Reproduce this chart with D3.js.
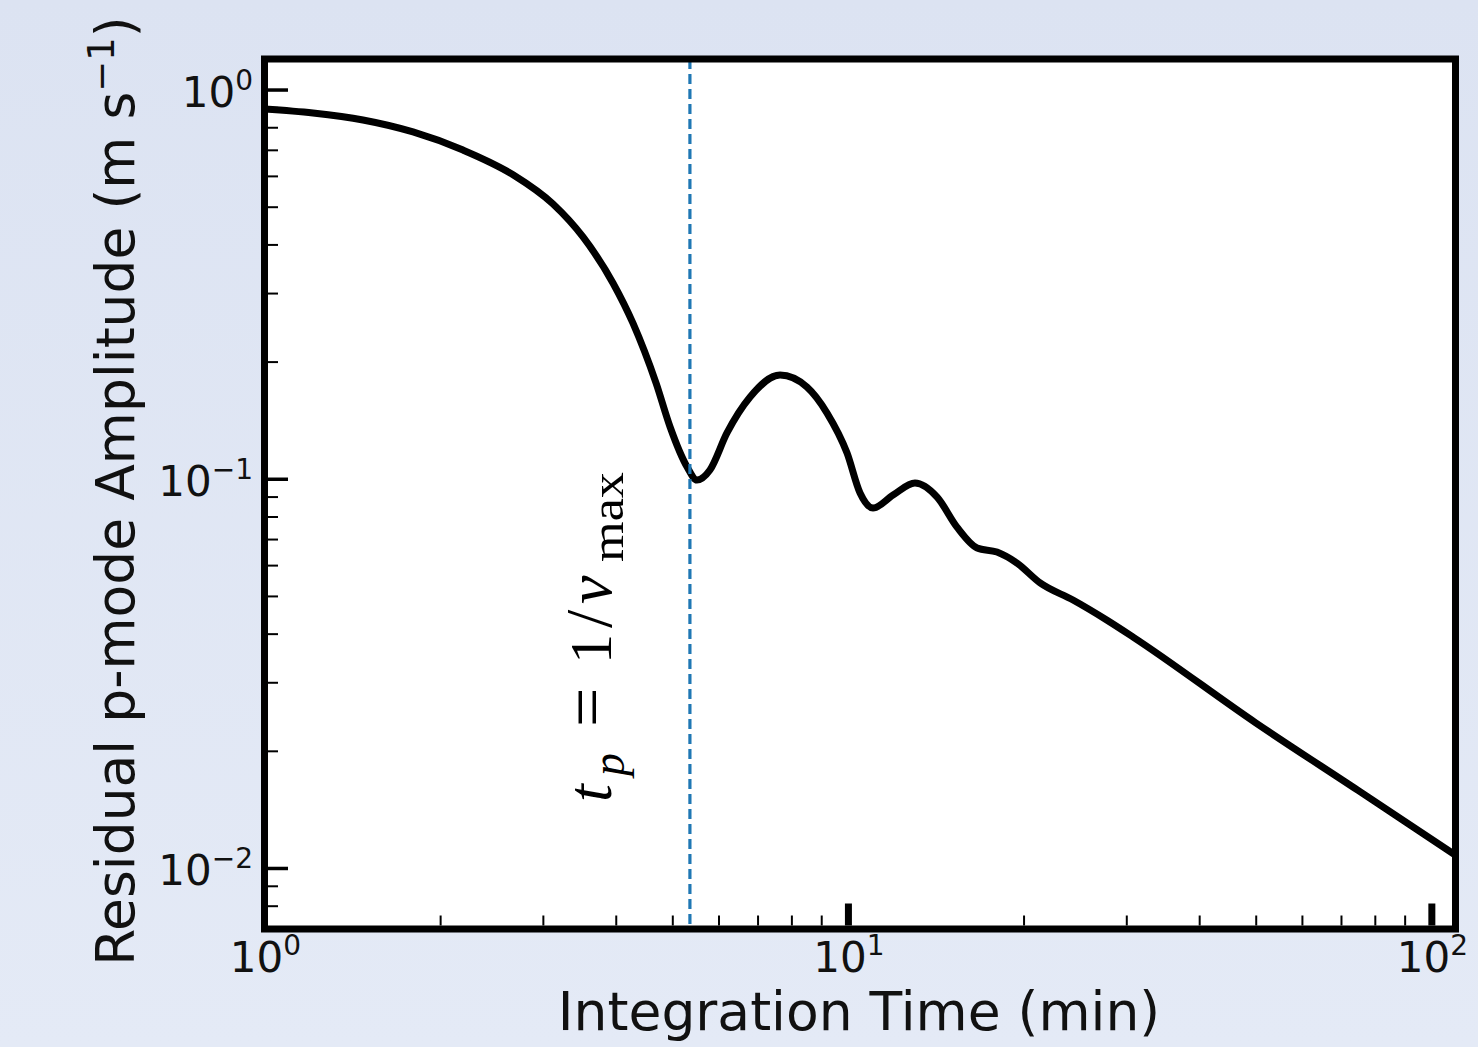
<!DOCTYPE html>
<html>
<head>
<meta charset="utf-8">
<script src="https://cdn.jsdelivr.net/npm/d3@7"></script>
<style>
  html, body { margin: 0; padding: 0; }
  body { width: 1478px; height: 1047px; overflow: hidden; }
  svg { display: block; }
</style>
</head>
<body>
<svg id="chart" width="1478" height="1047"></svg>
<script>
// ---- data ----
const timeMin = [1.0, 1.211, 1.475, 1.797, 2.189, 2.667, 3.123, 3.515, 3.958, 4.281, 4.690, 4.957, 5.301, 5.512, 5.801, 6.204, 6.797, 7.649, 8.510, 9.209, 9.966, 10.49, 11.04, 11.95, 13.03, 14.22, 15.38, 16.65, 18.01, 19.49, 21.35, 24.31, 27.81, 30.82, 50.0, 75.0, 110.0];
const amplitude = [0.891, 0.870, 0.835, 0.778, 0.699, 0.604, 0.508, 0.418, 0.318, 0.251, 0.176, 0.1358, 0.1072, 0.0992, 0.1053, 0.1311, 0.1622, 0.1847, 0.1720, 0.1475, 0.1164, 0.0919, 0.0841, 0.0908, 0.0975, 0.0897, 0.0751, 0.0664, 0.0648, 0.0607, 0.0540, 0.0488, 0.0433, 0.0392, 0.0236, 0.0158, 0.01079];
const tPeak = 5.36;                 // dashed marker t_p = 1/nu_max
const xMajorTicks = [1, 10, 100];
const xTickExps = ["0", "1", "2"];
const yMajorTicks = [1, 0.1, 0.01];
const yTickExps = ["0", "\u22121", "\u22122"];
const xMinorTicks = [2,3,4,5,6,7,8,9,20,30,40,50,60,70,80,90];
const yMinorTicks = [0.008,0.009,0.02,0.03,0.04,0.05,0.06,0.07,0.08,0.09,0.2,0.3,0.4,0.5,0.6,0.7,0.8,0.9];
const xDomain = [1, 110.0];
const yDomain = [0.00697, 1.198];

// ---- layout ----
const L = 264.5, R = 1455.5, T = 59, B = 929;
const svg = d3.select("#chart");

const defs = svg.append("defs");
const grad = defs.append("linearGradient").attr("id", "bg").attr("x1", 0).attr("y1", 0).attr("x2", 0).attr("y2", 1);
grad.append("stop").attr("offset", "0%").attr("stop-color", "#dce3f2");
grad.append("stop").attr("offset", "100%").attr("stop-color", "#e4eaf6");
defs.append("clipPath").attr("id", "plotclip").append("rect")
  .attr("x", L).attr("y", T).attr("width", R - L).attr("height", B - T);

svg.append("rect").attr("width", 1478).attr("height", 1047).attr("fill", "url(#bg)");
svg.append("rect").attr("x", L).attr("y", T).attr("width", R - L).attr("height", B - T).attr("fill", "#ffffff");

const x = d3.scaleLog().domain(xDomain).range([L, R]);
const y = d3.scaleLog().domain(yDomain).range([B, T]);

const FONT = "DejaVu Sans, Verdana, sans-serif";

// ---- ticks (inward) via d3 axes ----
const innerB = B - 3.5, innerL = L + 3.5;
const xMinorAxis = d3.axisBottom(x).tickValues(xMinorTicks).tickSize(-10).tickSizeOuter(0).tickFormat("");
const gxm = svg.append("g").attr("transform", `translate(0,${innerB})`).call(xMinorAxis);
gxm.select(".domain").remove();
gxm.selectAll(".tick line").attr("stroke", "#000").attr("stroke-width", 2);

const xMajorAxis = d3.axisBottom(x).tickValues([10, 100]).tickSize(-22).tickSizeOuter(0).tickFormat("");
const gxM = svg.append("g").attr("transform", `translate(0,${innerB})`).call(xMajorAxis);
gxM.select(".domain").remove();
gxM.selectAll(".tick line").attr("stroke", "#000").attr("stroke-width", 7);

const yMinorAxis = d3.axisLeft(y).tickValues(yMinorTicks).tickSize(-10).tickSizeOuter(0).tickFormat("");
const gym = svg.append("g").attr("transform", `translate(${innerL},0)`).call(yMinorAxis);
gym.select(".domain").remove();
gym.selectAll(".tick line").attr("stroke", "#000").attr("stroke-width", 2);

const yMajorAxis = d3.axisLeft(y).tickValues(yMajorTicks).tickSize(-20).tickSizeOuter(0).tickFormat("");
const gyM = svg.append("g").attr("transform", `translate(${innerL},0)`).call(yMajorAxis);
gyM.select(".domain").remove();
gyM.selectAll(".tick line").attr("stroke", "#000").attr("stroke-width", 3.5);

// ---- tick labels with superscripts ----
xMajorTicks.forEach((v, i) => {
  const t = svg.append("text").attr("x", x(v) + 1).attr("y", 972)
    .attr("text-anchor", "middle").attr("font-family", FONT).attr("font-size", 42).attr("fill", "#111");
  t.append("tspan").text("10");
  t.append("tspan").attr("dy", -17).attr("font-size", 28).text(xTickExps[i]);
});
yMajorTicks.forEach((v, i) => {
  const t = svg.append("text").attr("x", 253).attr("y", y(v) + 17)
    .attr("text-anchor", "end").attr("font-family", FONT).attr("font-size", 42).attr("fill", "#111");
  t.append("tspan").text("10");
  t.append("tspan").attr("dy", -17).attr("font-size", 28).text(yTickExps[i]);
});

// ---- curve ----
const line = d3.line().x(d => x(d[0])).y(d => y(d[1])).curve(d3.curveMonotoneX);
const pts = timeMin.map((t, i) => [t, amplitude[i]]);
svg.append("path").datum(pts).attr("clip-path", "url(#plotclip)")
  .attr("d", line).attr("fill", "none").attr("stroke", "#000").attr("stroke-width", 7)
  .attr("stroke-linejoin", "round").attr("stroke-linecap", "round");

// ---- dashed marker ----
svg.append("line").attr("x1", x(tPeak)).attr("x2", x(tPeak)).attr("y1", T).attr("y2", B)
  .attr("stroke", "#1f77b4").attr("stroke-width", 3.2).attr("stroke-dasharray", "10,5");

// ---- frame ----
svg.append("rect").attr("x", L).attr("y", T).attr("width", R - L).attr("height", B - T)
  .attr("fill", "none").attr("stroke", "#000").attr("stroke-width", 7);

// ---- axis labels ----
svg.append("text").attr("x", (L + R) / 2 - 1).attr("y", 1030).attr("text-anchor", "middle")
  .attr("font-family", FONT).attr("font-size", 53.5).attr("fill", "#111").text("Integration Time (min)");

const yl = svg.append("text").attr("transform", `translate(134,${(T + B) / 2 - 3}) rotate(-90)`)
  .attr("text-anchor", "middle").attr("font-family", FONT).attr("font-size", 53.5).attr("fill", "#111");
yl.append("tspan").text("Residual p-mode Amplitude (m s");
yl.append("tspan").attr("dy", -20).attr("font-size", 37).text("\u22121");
yl.append("tspan").attr("dy", 20).text(")");

// ---- annotation t_p = 1/nu_max ----
const SERIF = "Liberation Serif, DejaVu Serif, serif";
const ann = svg.append("g").attr("transform", "translate(611,800) rotate(-90)")
  .attr("font-family", SERIF).attr("fill", "#000");
ann.append("text").attr("x", -2).attr("y", 0).attr("font-size", 64).attr("font-style", "italic").text("t");
ann.append("text").attr("x", 24).attr("y", 13).attr("font-size", 46).attr("font-style", "italic").text("p");
ann.append("text").attr("x", 73).attr("y", 0).attr("font-size", 70).text("=");
ann.append("text").attr("x", 136).attr("y", 0).attr("font-size", 60).text("1");
ann.append("text").attr("x", 172).attr("y", 0).attr("font-size", 66).text("/");
ann.append("text").attr("x", 196).attr("y", 0).attr("font-size", 64).attr("font-style", "italic").text("\u03bd");
ann.append("text").attr("x", 238).attr("y", 12).attr("font-size", 46)
  .attr("textLength", 90).attr("lengthAdjust", "spacingAndGlyphs").text("max");
</script>
</body>
</html>
